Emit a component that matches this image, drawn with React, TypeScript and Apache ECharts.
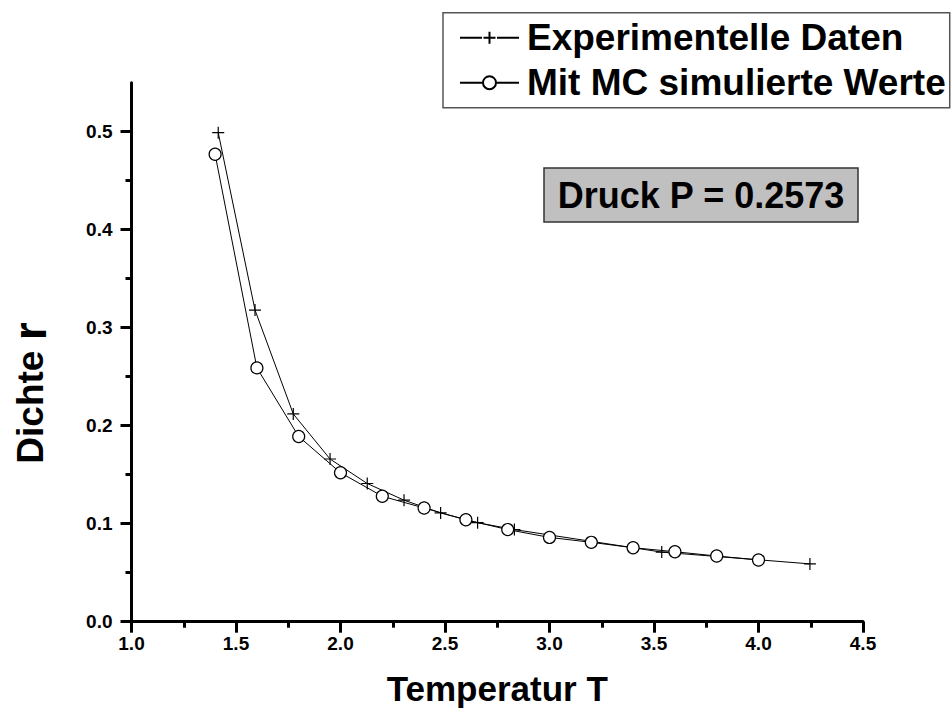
import React, { useEffect, useRef } from "react";
import * as echarts from "echarts";

// Experimental data (T, rho)
const expT = [1.415, 1.591, 1.774, 1.95, 2.128, 2.304, 2.479, 2.656, 2.832, 3.537, 4.246];
const expRho = [0.499, 0.318, 0.212, 0.166, 0.141, 0.124, 0.111, 0.101, 0.094, 0.071, 0.059];
// Monte-Carlo simulated values (T, rho)
const mcT = [1.4, 1.6, 1.8, 2.0, 2.2, 2.4, 2.6, 2.8, 3.0, 3.2, 3.4, 3.6, 3.8, 4.0];
const mcRho = [0.477, 0.259, 0.189, 0.152, 0.128, 0.116, 0.104, 0.094, 0.086, 0.081, 0.0755, 0.0714, 0.067, 0.063];

const yMajor = [0, 0.1, 0.2, 0.3, 0.4, 0.5];
const yMinor = [0.05, 0.15, 0.25, 0.35, 0.45];
const seriesNames = ["Experimentelle Daten", "Mit MC simulierte Werte"];
const pressureLabel = "Druck P = 0.2573";
const xTitle = "Temperatur T";
const yTitleMain = "Dichte ";
const yTitleSymbol = "r";

const FONT = "'Liberation Sans', Arial, Helvetica, sans-serif";

const legendIconPlus = "path://M0,6.5H22M37,6.5H59M23.5,6.5H35.5M29.5,0.5V12.5";
const legendIconCircle =
  "path://M0,6.5H22.5M36.5,6.5H59M36,6.5A6.5,6.5,0,1,1,23,6.5A6.5,6.5,0,1,1,36,6.5Z";

export default function App() {
  const ref = useRef<HTMLDivElement>(null);
  useEffect(() => {
    if (!ref.current) return;
    const chart = echarts.init(ref.current, undefined, { renderer: "svg" });
    const expData = expT.map((t, i) => [t, expRho[i]]);
    const mcData = mcT.map((t, i) => [t, mcRho[i]]);
    const axisColor = "#000";
    chart.setOption({
      animation: false,
      backgroundColor: "#fff",
      grid: { left: 131.5, right: 89, top: 82.7, bottom: 94.3 },
      xAxis: {
        type: "value",
        min: 1,
        max: 4.5,
        interval: 0.5,
        name: xTitle,
        nameLocation: "middle",
        nameGap: 49,
        nameTextStyle: { fontFamily: FONT, fontSize: 35, fontWeight: "bold", color: "#000" },
        axisLine: { show: true, onZero: false, lineStyle: { color: axisColor, width: 3 } },
        axisTick: { show: true, length: 11, lineStyle: { color: axisColor, width: 3 } },
        minorTick: { show: true, splitNumber: 2, length: 6, lineStyle: { color: axisColor, width: 3 } },
        splitLine: { show: false },
        minorSplitLine: { show: false },
        axisLabel: {
          formatter: (v: number) => v.toFixed(1),
          fontFamily: FONT,
          fontSize: 19,
          fontWeight: "bold",
          color: "#000",
          margin: 12,
        },
      },
      yAxis: [
        {
          type: "value",
          min: 0,
          max: 0.55,
          interval: 0.1,
          axisLine: { show: true, onZero: false, lineStyle: { color: axisColor, width: 3 } },
          axisTick: { show: true, length: 11, customValues: yMajor, lineStyle: { color: axisColor, width: 3 } },
          splitLine: { show: false },
          axisLabel: {
            customValues: yMajor,
            formatter: (v: number) => v.toFixed(1),
            fontFamily: FONT,
            fontSize: 19,
            fontWeight: "bold",
            color: "#000",
            margin: 19,
          },
        },
        {
          type: "value",
          min: 0,
          max: 0.55,
          interval: 0.1,
          position: "left",
          offset: 0,
          axisLine: { show: false },
          axisTick: { show: true, length: 6, customValues: yMinor, lineStyle: { color: axisColor, width: 3 } },
          splitLine: { show: false },
          axisLabel: { show: false },
        },
      ],
      legend: {
        orient: "vertical",
        left: 443,
        top: 12.7,
        data: [
          { name: seriesNames[0], icon: legendIconPlus },
          { name: seriesNames[1], icon: legendIconCircle },
        ],
        selectedMode: false,
        itemWidth: 59,
        itemHeight: 13,
        itemGap: 5,
        padding: [5, 4, 5, 16],
        borderColor: "#555",
        borderWidth: 1.5,
        backgroundColor: "#fff",
        textStyle: {
          fontFamily: FONT,
          fontSize: 37,
          fontWeight: "bold",
          color: "#000",
          lineHeight: 40,
          padding: [0, 0, 0, 3],
        },
      },
      graphic: [
        {
          type: "rect",
          shape: { x: 544, y: 168, width: 314, height: 54 },
          style: { fill: "#c0c0c0", stroke: "#333", lineWidth: 1.5 },
          z: 10,
        },
        {
          type: "text",
          x: 701,
          y: 195,
          z: 11,
          style: {
            text: pressureLabel,
            font: `bold 36px ${FONT}`,
            fill: "#000",
            align: "center",
            verticalAlign: "middle",
          },
        },
        {
          type: "text",
          x: 30,
          y: 393,
          rotation: Math.PI / 2,
          style: {
            text: `{a|${yTitleMain}}{b|${yTitleSymbol}}`,
            align: "center",
            verticalAlign: "middle",
            fill: "#000",
            rich: {
              a: { fontFamily: FONT, fontSize: 37, fontWeight: "bold", fill: "#000" },
              b: { fontFamily: FONT, fontSize: 46, fontWeight: "bold", fill: "#000" },
            },
          },
        },
      ],
      series: [
        {
          name: seriesNames[0],
          type: "line",
          data: expData,
          symbol: "path://M0,6H12M6,0V12",
          symbolSize: 12,
          showAllSymbol: true,
          lineStyle: { color: "#000", width: 1 },
          itemStyle: { color: "rgba(0,0,0,0)", borderColor: "#000", borderWidth: 1.2 },
          emphasis: { disabled: true },
          z: 2,
        },
        {
          name: seriesNames[1],
          type: "line",
          data: mcData,
          symbol: "circle",
          symbolSize: 12,
          showAllSymbol: true,
          lineStyle: { color: "#000", width: 1 },
          itemStyle: { color: "#fff", borderColor: "#000", borderWidth: 1.2 },
          emphasis: { disabled: true },
          z: 3,
        },
      ],
    });
    return () => chart.dispose();
  }, []);
  return (
    <div
      ref={ref}
      style={{ position: "absolute", left: 0, top: 0, width: 952, height: 716 }}
    />
  );
}
